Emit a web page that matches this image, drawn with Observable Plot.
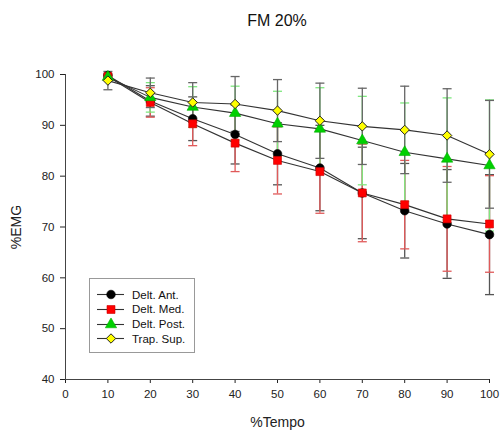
<!DOCTYPE html>
<html><head><meta charset="utf-8">
<script src="https://cdn.jsdelivr.net/npm/d3@7"></script>
<script src="https://cdn.jsdelivr.net/npm/@observablehq/plot@0.6"></script>
<style>
body{margin:0;background:#fff;font-family:"Liberation Sans",Arial,sans-serif;}
#wrap{position:relative;width:501px;height:430px;}
#title{position:absolute;left:65px;width:424px;top:11px;text-align:center;font-size:16px;line-height:20px;color:#111;}
#legend{position:absolute;left:89px;top:278px;width:106px;height:75px;border:1px solid #999;box-sizing:border-box;background:#fff;}
#legend .row{position:absolute;left:0;height:15px;display:flex;align-items:center;}
#legend span{font-size:11.5px;color:#111;margin-left:6px;}
</style></head><body><div id="wrap"><div id="title">FM 20%</div></div>
<script>
const tempo = [10, 20, 30, 40, 50, 60, 70, 80, 90, 100];
const seriesNames = ["Delt. Ant.", "Delt. Med.", "Delt. Post.", "Trap. Sup."];
const antMean  = [99.8, 94.8, 91.3, 88.2, 84.4, 81.6, 76.7, 73.2, 70.6, 68.5];
const antSd    = [0.3, 3.0, 4.3, 5.8, 6.1, 8.4, 9.0, 9.3, 10.7, 11.8];
const medMean  = [99.6, 94.5, 90.3, 86.5, 83.1, 80.9, 76.7, 74.4, 71.6, 70.6];
const medSd    = [0.3, 2.9, 4.3, 5.6, 6.6, 8.2, 9.6, 8.7, 10.3, 9.5];
const postMean = [99.5, 95.5, 93.6, 92.4, 90.3, 89.3, 87.0, 84.7, 83.4, 82.1];
const postSd   = [0.3, 2.9, 4.0, 5.3, 6.4, 8.1, 8.7, 9.7, 12.0, 12.9];
const trapMean = [98.8, 96.4, 94.5, 94.2, 92.9, 90.9, 89.8, 89.1, 88.0, 84.3];
const trapSd   = [1.8, 2.9, 3.9, 5.4, 6.1, 7.4, 7.5, 8.6, 9.2, 10.6];
const xTicks = [0, 10, 20, 30, 40, 50, 60, 70, 80, 90, 100];
const yTicks = [40, 50, 60, 70, 80, 90, 100];

const means = [antMean, medMean, postMean, trapMean];
const sds = [antSd, medSd, postSd, trapSd];
const styles = [
  {symbol: "circle", fill: "#000", stroke: "#000", err: "#555", r: 4.3},
  {symbol: "square", fill: "#ff0000", stroke: "#cc0000", err: "#e05a5a", r: 4.5},
  {symbol: "triangle", fill: "#00d000", stroke: "#00b000", err: "#7ee87e", r: 4.2},
  {symbol: "diamond", fill: "#ffff00", stroke: "#222", err: "#666", r: 4.2}
];
const diamond = {draw(ctx, size) { const s = Math.sqrt(size) * 0.63; ctx.moveTo(0, -s); ctx.lineTo(s, 0); ctx.lineTo(0, s); ctx.lineTo(-s, 0); ctx.closePath(); }};
const cap = {draw(ctx, size) { ctx.moveTo(-4.5, 0); ctx.lineTo(4.5, 0); }};

const rows = seriesNames.map((name, i) => tempo.map((t, j) => ({series: name, x: t, y: means[i][j], sd: sds[i][j]})));

const marks = [];
rows.forEach((data, i) => {
  const st = styles[i];
  marks.push(Plot.ruleX(data, {x: "x", y1: d => d.y - d.sd, y2: d => d.y + d.sd, stroke: st.err, strokeWidth: 1.3}));
  marks.push(Plot.dot(data, {x: "x", y: d => d.y + d.sd, symbol: cap, r: 3, stroke: st.err, fill: "none", strokeWidth: 1.3}));
  marks.push(Plot.dot(data, {x: "x", y: d => d.y - d.sd, symbol: cap, r: 3, stroke: st.err, fill: "none", strokeWidth: 1.3}));
});
rows.forEach((data) => {
  marks.push(Plot.line(data, {x: "x", y: "y", stroke: "#333", strokeWidth: 1.1}));
});
rows.forEach((data, i) => {
  const st = styles[i];
  marks.push(Plot.dot(data, {x: "x", y: "y", symbol: st.symbol === "diamond" ? diamond : st.symbol, r: st.r, fill: st.fill, stroke: st.stroke, strokeWidth: st.symbol === "diamond" ? 1 : 0.6}));
});
marks.push(Plot.ruleX([0], {stroke: "#444"}));
marks.push(Plot.ruleY([40], {stroke: "#444"}));

const chart = Plot.plot({
  width: 501, height: 430,
  marginTop: 74, marginBottom: 51, marginLeft: 65, marginRight: 12,
  style: {fontFamily: "'Liberation Sans', Arial, sans-serif", fontSize: "11.5px", color: "#222", background: "transparent"},
  x: {domain: [0, 100], ticks: xTicks, tickSize: 4, tickPadding: 6, label: "%Tempo", labelAnchor: "center", labelOffset: 47, labelArrow: "none"},
  y: {domain: [40, 100], ticks: yTicks, tickSize: 5, tickPadding: 6, label: "%EMG", labelAnchor: "center", labelOffset: 54, labelArrow: "none"},
  marks
});
document.getElementById("wrap").appendChild(chart);
chart.style.position = "absolute"; chart.style.left = "0"; chart.style.top = "0";
chart.querySelectorAll("g[aria-label='x-axis label'] text, g[aria-label='y-axis label'] text").forEach(t => t.style.fontSize = "14px");

// legend
const leg = document.createElement("div");
leg.id = "legend";
const rowY = [8, 22.5, 37.5, 52];
seriesNames.forEach((name, i) => {
  const st = styles[i];
  const row = document.createElement("div");
  row.className = "row";
  row.style.top = rowY[i] + "px";
  const svg = d3.create("svg").attr("width", 36).attr("height", 15);
  svg.append("line").attr("x1", 7).attr("x2", 34).attr("y1", 7.5).attr("y2", 7.5).attr("stroke", "#333").attr("stroke-width", 1.1);
  const sym = st.symbol === "diamond" ? diamond : ({circle: d3.symbolCircle, square: d3.symbolSquare, triangle: d3.symbolTriangle})[st.symbol];
  svg.append("path").attr("transform", "translate(21,7.5)").attr("d", d3.symbol(sym, Math.PI * st.r * st.r)()).attr("fill", st.fill).attr("stroke", st.stroke).attr("stroke-width", st.symbol === "diamond" ? 1 : 0.6);
  row.appendChild(svg.node());
  const sp = document.createElement("span");
  sp.textContent = name;
  row.appendChild(sp);
  leg.appendChild(row);
});
document.getElementById("wrap").appendChild(leg);
</script>
</body></html>
